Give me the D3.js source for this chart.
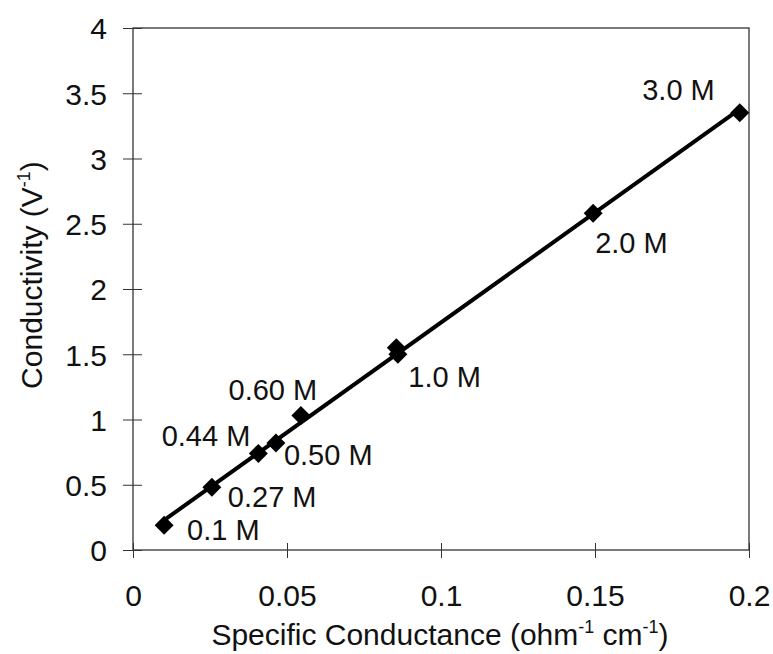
<!DOCTYPE html>
<html>
<head>
<meta charset="utf-8">
<script src="https://cdn.jsdelivr.net/npm/d3@7"></script>
<style>
  body { margin: 0; background: #fff; }
  svg text { font-family: "Liberation Sans", Arial, sans-serif; fill: #111; }
</style>
</head>
<body>
<div id="chart"></div>
<script>
'use strict';

// the data
var conductance = [0.0101, 0.0256, 0.0407, 0.0464, 0.0545, 0.0855, 0.0860, 0.1494, 0.1970];
var conductivity = [0.19, 0.48, 0.74, 0.82, 1.03, 1.55, 1.50, 2.58, 3.35];
var concLabels = ['0.1 M', '0.27 M', '0.44 M', '0.50 M', '0.60 M', '1.0 M', '', '2.0 M', '3.0 M'];
var xTicks = [0, 0.05, 0.1, 0.15, 0.2];
var yTicks = [0, 0.5, 1, 1.5, 2, 2.5, 3, 3.5, 4];

// label placement (dx, dy from the point, text-anchor)
var labelPos = [
    [23, 15, 'start'], [16, 20, 'start'], [-8, -7, 'end'], [8, 22, 'start'],
    [-28, -16, 'middle'], [12, 39, 'start'], [0, 0, 'start'], [2, 40, 'start'], [-25, -13, 'end']
];

var W = 773, H = 654;
var margin = {top: 28, right: 24, bottom: 104, left: 133},
    width = W - margin.left - margin.right,
    height = H - margin.top - margin.bottom;

var x = d3.scaleLinear().domain([0, 0.2]).range([0, width]);
var y = d3.scaleLinear().domain([0, 4]).range([height, 0]);

var svg = d3.select('#chart').append('svg')
    .attr('width', W)
    .attr('height', H);

var vis = svg.append('g')
    .attr('transform', 'translate(' + margin.left + ',' + margin.top + ')');

// plot frame
vis.append('rect')
    .attr('width', width)
    .attr('height', height)
    .attr('fill', 'none')
    .attr('stroke', '#222')
    .attr('stroke-width', 1.2);

// x axis, ticks crossing the line
var xAxis = vis.append('g')
    .attr('transform', 'translate(0,' + height + ')')
    .call(d3.axisBottom(x).tickValues(xTicks).tickSize(0).tickPadding(0).tickFormat(function (d) { return String(d); }));
xAxis.select('.domain').remove();
xAxis.selectAll('.tick line').attr('y1', -7).attr('y2', 8).attr('stroke', '#333').attr('stroke-width', 1);
xAxis.selectAll('.tick text')
    .attr('y', 56).attr('dy', null)
    .style('font-size', '30px');

// y axis
var yAxis = vis.append('g')
    .call(d3.axisLeft(y).tickValues(yTicks).tickSize(0).tickPadding(0).tickFormat(function (d) { return String(d); }));
yAxis.select('.domain').remove();
yAxis.selectAll('.tick line').attr('x1', -10).attr('x2', 9).attr('stroke', '#333').attr('stroke-width', 1);
yAxis.selectAll('.tick text')
    .attr('x', -26).attr('dy', '0.36em')
    .style('font-size', '30px');

// trend line through the measured points
var pts = conductance.map(function (c, i) { return {x: c, y: conductivity[i]}; });
var mx = d3.mean(pts, function (d) { return d.x; }),
    my = d3.mean(pts, function (d) { return d.y; });
var slope = d3.sum(pts, function (d) { return (d.x - mx) * (d.y - my); }) /
            d3.sum(pts, function (d) { return (d.x - mx) * (d.x - mx); });
var icept = my - slope * mx;
var trend = d3.extent(conductance).map(function (v) { return {x: v, y: icept + slope * v}; });

vis.append('path')
    .datum(trend)
    .attr('fill', 'none')
    .attr('stroke', '#000')
    .attr('stroke-width', 4)
    .attr('d', d3.line().x(function (d) { return x(d.x); }).y(function (d) { return y(d.y); }));

// markers
vis.selectAll('.pt')
    .data(pts)
    .enter().append('path')
    .attr('class', 'pt')
    .attr('d', d3.symbol(d3.symbolSquare, 180))
    .attr('fill', '#000')
    .attr('transform', function (d) { return 'translate(' + x(d.x) + ',' + y(d.y) + ') rotate(45)'; });

// concentration labels
vis.selectAll('.lbl')
    .data(pts)
    .enter().append('text')
    .attr('class', 'lbl')
    .attr('x', function (d, i) { return x(d.x) + labelPos[i][0]; })
    .attr('y', function (d, i) { return y(d.y) + labelPos[i][1]; })
    .attr('text-anchor', function (d, i) { return labelPos[i][2]; })
    .style('font-size', '29px')
    .text(function (d, i) { return concLabels[i]; });

// axis titles
var xt = svg.append('text')
    .attr('x', 440)
    .attr('y', 645)
    .attr('text-anchor', 'middle')
    .style('font-size', '30px');
xt.append('tspan').text('Specific Conductance (ohm');
xt.append('tspan').attr('dy', -12).style('font-size', '18px').text('-1');
xt.append('tspan').attr('dy', 12).text(' cm');
xt.append('tspan').attr('dy', -12).style('font-size', '18px').text('-1');
xt.append('tspan').attr('dy', 12).text(')');

var yt = svg.append('text')
    .attr('transform', 'translate(42,275) rotate(-90)')
    .attr('text-anchor', 'middle')
    .style('font-size', '30px');
yt.append('tspan').text('Conductivity (V');
yt.append('tspan').attr('dy', -12).style('font-size', '18px').text('-1');
yt.append('tspan').attr('dy', 12).text(')');
</script>
</body>
</html>
